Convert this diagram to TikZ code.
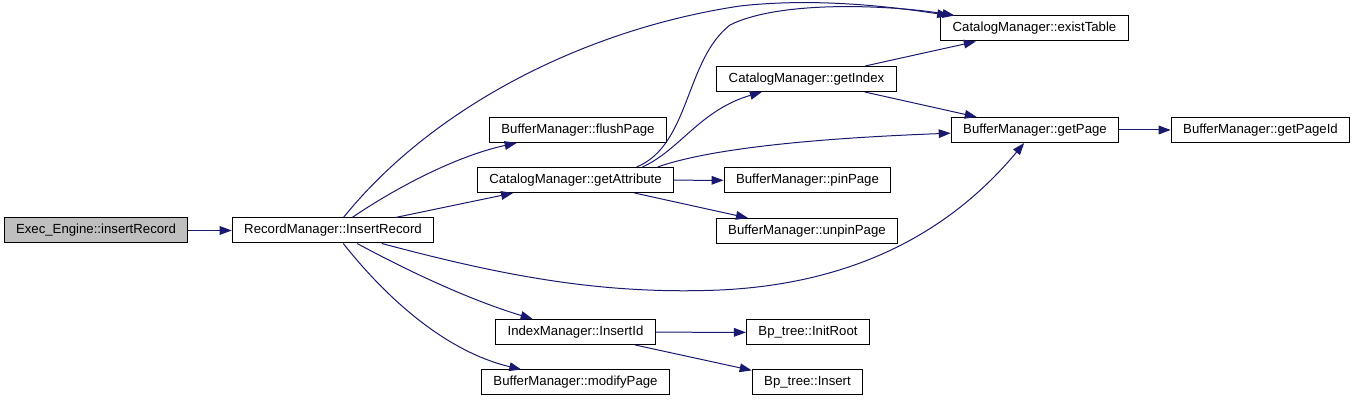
\documentclass[tikz,border=0pt]{standalone}
\usepackage{fontspec}
\setmainfont{Liberation Sans}
\usetikzlibrary{arrows.meta}
\definecolor{edgeblue}{HTML}{191970}
\definecolor{rootgray}{HTML}{BFBFBF}

\begin{document}
\begin{tikzpicture}[
    x=0.75pt, y=-0.75pt,
    font=\fontsize{9.9}{11}\selectfont,
    >={Triangle[length=9pt,width=6.5pt]},
    func/.style={draw, line width=0.75pt, fill=white, inner xsep=9pt, inner ysep=0pt, minimum height=18.75pt},
    root/.style={func, fill=rootgray},
    call/.style={->, edgeblue, line width=0.75pt}
]
\useasboundingbox (0,0) rectangle (1353,402);

% Caller and first callee
\node[root] (execInsert) at (96,230.5) {Exec\_Engine::insertRecord};
\node[func] (recInsert) at (333,230.5) {RecordManager::InsertRecord};

% Middle column
\node[func] (flushPage) at (578,130) {BufferManager::flushPage};
\node[func] (getAttribute) at (575.5,180) {CatalogManager::getAttribute};
\node[func] (insertId) at (575.5,332) {IndexManager::InsertId};
\node[func] (modifyPage) at (575.5,382.5) {BufferManager::modifyPage};

% Third column
\node[func] (getIndex) at (806.5,79) {CatalogManager::getIndex};
\node[func] (pinPage) at (807.5,180.5) {BufferManager::pinPage};
\node[func] (unpinPage) at (807,231) {BufferManager::unpinPage};
\node[func] (initRoot) at (808,332.5) {Bp\_tree::InitRoot};
\node[func] (bpInsert) at (807.5,382.5) {Bp\_tree::Insert};

% Right side
\node[func] (existTable) at (1034.5,28.5) {CatalogManager::existTable};
\node[func] (getPage) at (1035,130) {BufferManager::getPage};
\node[func] (getPageId) at (1260.5,130) {BufferManager::getPageId};

% Calls from the caller
\draw[call] (execInsert) -- (recInsert);

% Calls from RecordManager::InsertRecord
\draw[call] (recInsert) .. controls (430,110) and (580,30) .. (740,6)
    .. controls (820,-3) and (900,8) .. (existTable);
\draw[call] (recInsert) .. controls (400,185) and (460,155) .. (flushPage);
\draw[call] (recInsert) -- (getAttribute);
\draw[call] (recInsert) .. controls (500,275) and (600,295) .. (720,290)
    .. controls (870,283) and (960,220) .. (getPage);
\draw[call] (recInsert) .. controls (410,272) and (470,300) .. (insertId);
\draw[call] (recInsert) .. controls (380,290) and (440,350) .. (modifyPage);

% Calls from CatalogManager::getAttribute
\draw[call] (getAttribute.12) .. controls (690,145) and (685,60) .. (730,25)
    .. controls (780,0) and (890,5) .. (existTable);
\draw[call] (getAttribute.11) .. controls (680,150) and (700,110) .. (getIndex);
\draw[call] (getAttribute.9) .. controls (720,145) and (850,137) .. (getPage);
\draw[call] (getAttribute) -- (pinPage);
\draw[call] (getAttribute) -- (unpinPage);

% Calls from CatalogManager::getIndex
\draw[call] (getIndex) -- (existTable);
\draw[call] (getIndex) -- (getPage);

% Remaining calls
\draw[call] (getPage) -- (getPageId);
\draw[call] (insertId) -- (initRoot);
\draw[call] (insertId) -- (bpInsert);

\end{tikzpicture}
\end{document}
